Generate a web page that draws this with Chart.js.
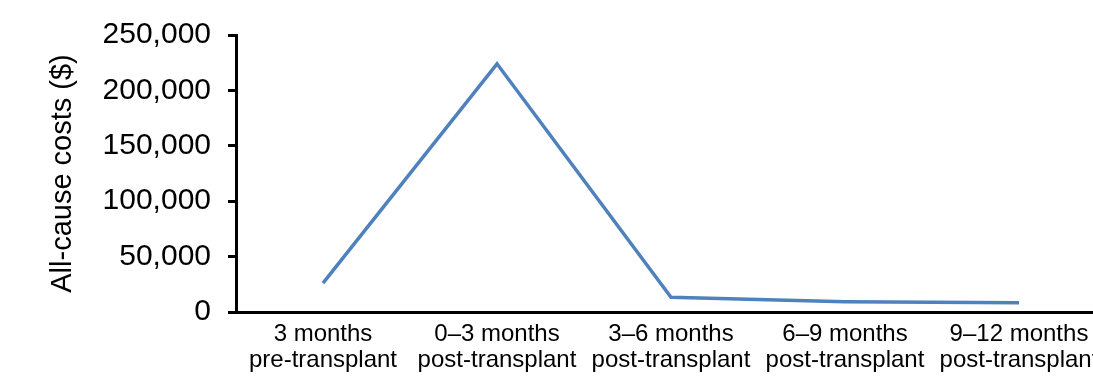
<!DOCTYPE html>
<html>
<head>
<meta charset="utf-8">
<script src="https://cdn.jsdelivr.net/npm/chart.js@4.4.1/dist/chart.umd.min.js"></script>
<style>
  html, body { margin: 0; padding: 0; background: #fff; overflow: hidden; }
</style>
</head>
<body>
<canvas id="costChart" width="1110" height="379"></canvas>
<script>
////Chart data
const periods = [
    ["3 months", "pre-transplant"],
    ["0\u20133 months", "post-transplant"],
    ["3\u20136 months", "post-transplant"],
    ["6\u20139 months", "post-transplant"],
    ["9\u201312 months", "post-transplant"]
];
const allCauseCosts = [26000, 224000, 13300, 9200, 8300];
const yTicks = [0, 50000, 100000, 150000, 200000, 250000];

const FONT = "'Liberation Sans', Arial, sans-serif";

var ctx = document.getElementById("costChart").getContext('2d');
var costChart = new Chart(ctx, {
    type: 'line',
    data: {
        labels: periods,
        datasets: [{
            label: 'All-cause costs',
            data: allCauseCosts,
            borderColor: '#4F81BD',
            backgroundColor: '#4F81BD',
            borderWidth: 3.5,
            pointRadius: 0,
            tension: 0
        }]
    },
    options: {
        responsive: false,
        animation: false,
        devicePixelRatio: 1,
        layout: { padding: { top: 34, right: 4, bottom: 0, left: 0 } },
        plugins: { legend: { display: false }, tooltip: { enabled: false } },
        scales: {
            x: {
                offset: true,
                grid: { display: false, drawTicks: false },
                border: { color: '#000', width: 3 },
                ticks: {
                    color: '#000',
                    padding: 9,
                    maxRotation: 0,
                    autoSkip: false,
                    font: { family: FONT, size: 24, lineHeight: 1.08 }
                },
                afterFit: function (scale) { scale.height = 379 - 312; }
            },
            y: {
                min: 0,
                max: 250000,
                afterBuildTicks: function (scale) {
                    scale.ticks = yTicks.map(v => ({ value: v }));
                },
                grid: { drawOnChartArea: false, color: '#000', lineWidth: 3, tickLength: 8 },
                border: { color: '#000', width: 3 },
                ticks: {
                    color: '#000',
                    padding: 17,
                    font: { family: FONT, size: 30 },
                    callback: v => v.toLocaleString('en-US')
                },
                title: {
                    display: true,
                    text: 'All-cause costs ($)',
                    color: '#000',
                    font: { family: FONT, size: 29 },
                    padding: { top: 46, bottom: 0 }
                },
                afterFit: function (scale) { scale.width = 236; }
            }
        }
    }
});
</script>
</body>
</html>
